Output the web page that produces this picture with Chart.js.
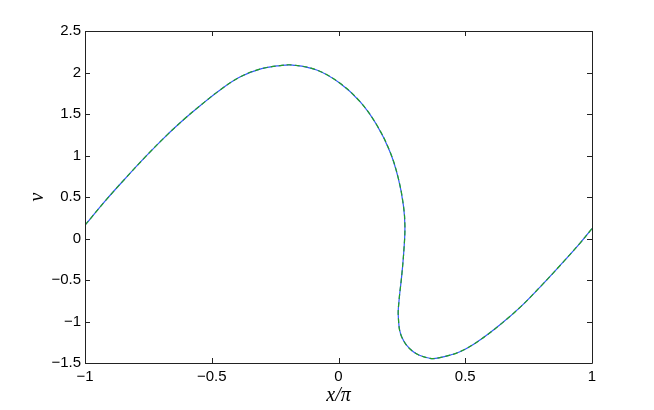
<!DOCTYPE html>
<html>
<head>
<meta charset="utf-8">
<script src="https://cdn.jsdelivr.net/npm/chart.js@4"></script>
<style>
  html, body { margin: 0; padding: 0; background: #fff; }
  #wrap { width: 654px; height: 410px; }
</style>
</head>
<body>
<div id="wrap"><canvas id="chart" width="654" height="410"></canvas></div>
<script>
// curve v(x/pi), in order along the curve
const xs = [-1.0, -0.921, -0.842, -0.763, -0.684, -0.606, -0.546, -0.467, -0.389, -0.310,
  -0.231, -0.180, -0.086, 0.006, 0.085, 0.151, 0.203, 0.236, 0.256, 0.262, 0.258, 0.249,
  0.239, 0.236, 0.249, 0.295, 0.361, 0.400, 0.479, 0.558, 0.637, 0.716, 0.795, 0.874,
  0.953, 1.0];
const vs = [0.16, 0.45, 0.72, 0.98, 1.225, 1.445, 1.60, 1.79, 1.945, 2.04,
  2.083, 2.09, 2.03, 1.87, 1.648, 1.367, 1.046, 0.725, 0.40, 0.142, -0.139, -0.46,
  -0.741, -0.942, -1.183, -1.364, -1.444, -1.435, -1.364, -1.223, -1.04, -0.83, -0.585, -0.325,
  -0.055, 0.12];
const xTicks = [-1, -0.5, 0, 0.5, 1];
const yTicks = [-1.5, -1, -0.5, 0, 0.5, 1, 1.5, 2, 2.5];

const points = xs.map((x, i) => ({ x: x, y: vs[i] }));
const minus = (v) => String(v).replace("-", "\u2212");
const tickFont = { family: "'Liberation Sans', Arial, sans-serif", size: 15 };
const titleFont = { family: "'Liberation Serif', 'Times New Roman', serif", size: 20, style: "italic" };

// matlab style box with inward ticks
const boxTicks = {
  id: "boxTicks",
  afterDatasetsDraw(chart) {
    const { ctx, chartArea: a, scales } = chart;
    const len = 5;
    ctx.save();
    ctx.strokeStyle = "#222";
    ctx.lineWidth = 1;
    ctx.beginPath();
    ctx.rect(Math.round(a.left) + 0.5, Math.round(a.top) + 0.5,
      Math.round(a.right - a.left), Math.round(a.bottom - a.top));
    xTicks.forEach((t) => {
      const px = Math.round(scales.x.getPixelForValue(t)) + 0.5;
      ctx.moveTo(px, a.bottom); ctx.lineTo(px, a.bottom - len);
      ctx.moveTo(px, a.top); ctx.lineTo(px, a.top + len);
    });
    yTicks.forEach((t) => {
      const py = Math.round(scales.y.getPixelForValue(t)) + 0.5;
      ctx.moveTo(a.left, py); ctx.lineTo(a.left + len, py);
      ctx.moveTo(a.right, py); ctx.lineTo(a.right - len, py);
    });
    ctx.stroke();
    ctx.restore();
  },
};

new Chart(document.getElementById("chart"), {
  type: "scatter",
  data: {
    datasets: [
      {
        data: points,
        showLine: true,
        borderColor: "#3458ff",
        borderWidth: 1.2,
        pointRadius: 0,
        tension: 0.4,
        order: 2,
      },
      {
        data: points,
        showLine: true,
        borderColor: "#22a022",
        borderWidth: 1.2,
        borderDash: [5, 3],
        pointRadius: 0,
        tension: 0.4,
        order: 1,
      },
    ],
  },
  options: {
    responsive: false,
    animation: false,
    layout: { padding: { top: 31, right: 62, left: 0, bottom: 0 } },
    plugins: { legend: { display: false }, tooltip: { enabled: false } },
    scales: {
      x: {
        type: "linear",
        min: -1,
        max: 1,
        afterFit: (s) => { s.height = 47; },
        afterBuildTicks: (s) => { s.ticks = xTicks.map((v) => ({ value: v })); },
        grid: { display: false, drawTicks: false },
        border: { display: false },
        ticks: { color: "#000", font: tickFont, padding: 5, maxRotation: 0, callback: minus },
        title: { display: true, text: "x/\u03c0", color: "#000", font: titleFont, padding: { top: 0, bottom: 2 } },
      },
      y: {
        type: "linear",
        min: -1.5,
        max: 2.5,
        afterFit: (s) => { s.width = 85; },
        afterBuildTicks: (s) => { s.ticks = yTicks.map((v) => ({ value: v })); },
        grid: { display: false, drawTicks: false },
        border: { display: false },
        ticks: { color: "#000", font: tickFont, padding: 4, callback: minus },
        title: { display: true, text: "v", color: "#000", font: titleFont, padding: { top: 26, bottom: 0 } },
      },
    },
  },
  plugins: [boxTicks],
});
</script>
</body>
</html>
